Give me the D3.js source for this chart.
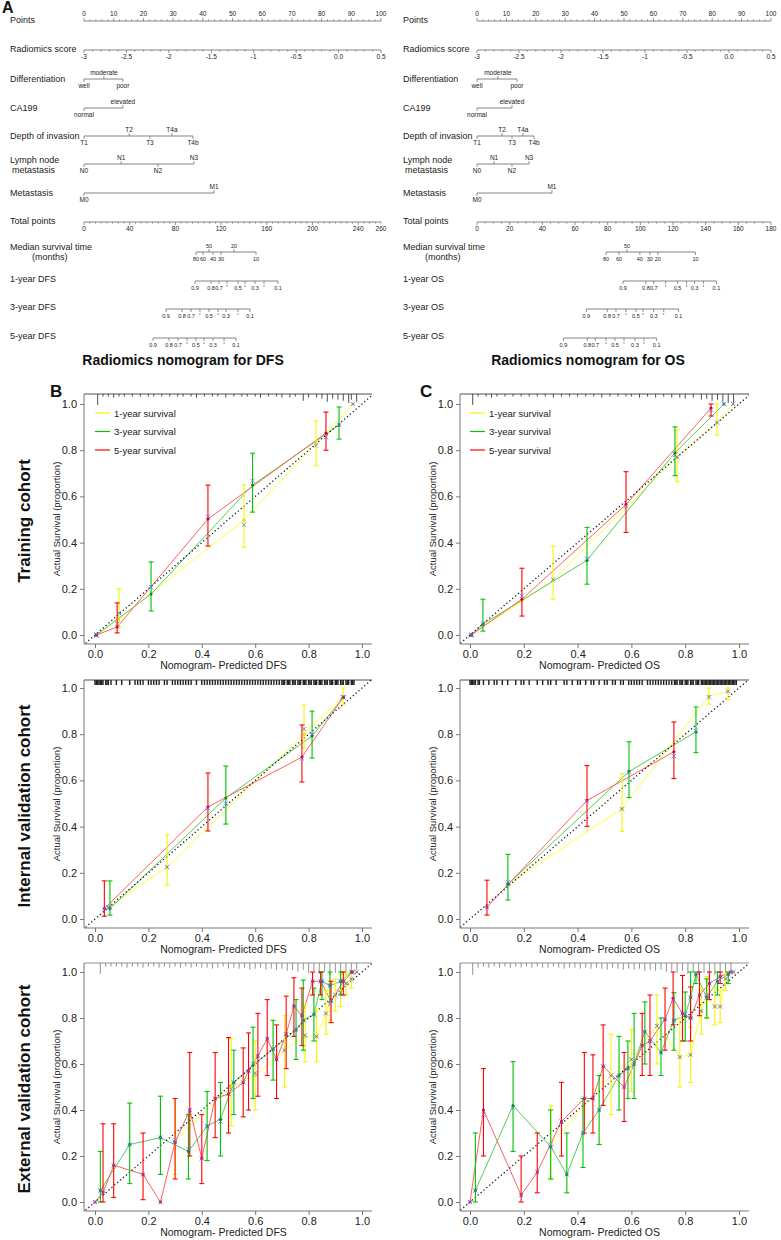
<!DOCTYPE html>
<html>
<head>
<meta charset="utf-8">
<script src="https://cdn.jsdelivr.net/npm/d3@7"></script>
<style>
  body { margin: 0; background: #fff; }
  svg { display: block; font-family: "Liberation Sans", Arial, sans-serif; }
</style>
</head>
<body>
<script>
// ---------- Nomogram data (points contributed by each level) ----------
const pointTicks = d3.range(0, 101, 10)
const radScoreTicks = [-3, -2.5, -2, -1.5, -1, -0.5, 0, 0.5]
const probLabelled = [0.9, 0.8, 0.7, 0.5, 0.3, 0.1]

const dfsDiff = [["well", 0], ["moderate", 6.7], ["poor", 13.1]]
const dfsCA199 = [["normal", 0], ["elevated", 13.1]]
const dfsDepth = [["T1", 0], ["T2", 15.2], ["T3", 22.2], ["T4a", 29.6], ["T4b", 36.7]]
const dfsNode = [["N0", 0], ["N1", 12.5], ["N2", 24.9], ["N3", 37.0]]
const dfsMeta = [["M0", 0], ["M1", 43.8]]
// [months, total points]
const dfsMedian = [[80, 98], [60, 104.2], [50, 109.4], [40, 112.9], [30, 119.9], [20, 131.3], [10, 150.6]]
const dfsMedianUp = [50, 20]
// [probability, total points]
const dfs1y = [[0.9, 97.2], [0.8, 111.2], [0.7, 118.2], [0.6, 125.2], [0.5, 134.8], [0.4, 140.9], [0.3, 149.7], [0.2, 157.6], [0.1, 169.8]]
const dfs3y = [[0.9, 71.8], [0.8, 85.8], [0.7, 93.7], [0.6, 101.5], [0.5, 109.4], [0.4, 117.3], [0.3, 124.3], [0.2, 134.8], [0.1, 145.3]]
const dfs5y = [[0.9, 60.4], [0.8, 74.4], [0.7, 82.3], [0.6, 90.2], [0.5, 98], [0.4, 105], [0.3, 112.9], [0.2, 122.6], [0.1, 133.1]]

const osDiff = [["well", 0], ["moderate", 7.1], ["poor", 13.6]]
const osCA199 = [["normal", 0], ["elevated", 11.9]]
const osDepth = [["T1", 0], ["T2", 8.5], ["T3", 11.9], ["T4a", 15.6], ["T4b", 19.4]]
const osNode = [["N0", 0], ["N1", 5.8], ["N2", 11.9], ["N3", 17.7]]
const osMeta = [["M0", 0], ["M1", 25.5]]
const osMedian = [[80, 79], [60, 87], [50, 91.8], [40, 99.7], [30, 105.8], [20, 110.7], [10, 133.8]]
const osMedianUp = [50]
const os1y = [[0.9, 89.4], [0.8, 103.4], [0.7, 108.2], [0.6, 115.5], [0.5, 122.8], [0.4, 128.3], [0.3, 133.2], [0.2, 138.6], [0.1, 146.6]]
const os3y = [[0.9, 66.9], [0.8, 79.7], [0.7, 85.1], [0.6, 91.2], [0.5, 97.3], [0.4, 101.6], [0.3, 108.2], [0.2, 114.3], [0.1, 123.4]]
const os5y = [[0.9, 52.9], [0.8, 67.5], [0.7, 72.4], [0.6, 79], [0.5, 84.5], [0.4, 90], [0.3, 96.7], [0.2, 102.2], [0.1, 110]]

// ---------- Calibration data: [predicted, observed, lower, upper, corrected] ----------
const dfsTrain = {
  y: [[0.005, 0, 0, 0, 0], [0.09, 0.07, 0.035, 0.20, 0.095], [0.558, 0.498, 0.38, 0.65, 0.477], [0.828, 0.83, 0.732, 0.926, 0.82], [0.966, 1, 1, 1, 1]],
  g: [[0.005, 0, 0, 0, 0], [0.21, 0.177, 0.104, 0.316, 0.207], [0.59, 0.649, 0.532, 0.787, 0.667], [0.914, 0.909, 0.848, 0.987, 0.91]],
  r: [[0.005, 0, 0, 0, 0], [0.083, 0.035, 0.009, 0.139, 0.048], [0.423, 0.502, 0.385, 0.649, 0.511], [0.865, 0.874, 0.80, 0.965, 0.857]]
}
const osTrain = {
  y: [[0.005, 0, 0, 0, 0], [0.309, 0.237, 0.155, 0.384, 0.24], [0.77, 0.77, 0.664, 0.888, 0.77], [0.918, 0.918, 0.866, 1, 0.92], [0.978, 1, 1, 1, 1]],
  g: [[0.005, 0, 0, 0, 0], [0.048, 0.047, 0.017, 0.155, 0.05], [0.435, 0.323, 0.22, 0.466, 0.33], [0.762, 0.789, 0.69, 0.901, 0.78], [0.944, 1, 1, 1, 1]],
  r: [[0.005, 0, 0, 0, 0], [0.193, 0.155, 0.082, 0.289, 0.17], [0.58, 0.565, 0.444, 0.707, 0.56], [0.896, 0.983, 0.948, 1, 0.975]]
}
const dfsInternal = {
  y: [[0.05, 0.05, 0.05, 0.05, 0.05], [0.27, 0.225, 0.147, 0.364, 0.225], [0.783, 0.80, 0.74, 0.926, 0.823], [0.929, 0.965, 0.93, 1, 0.96]],
  g: [[0.056, 0.045, 0.017, 0.165, 0.05], [0.49, 0.524, 0.411, 0.662, 0.5], [0.813, 0.792, 0.697, 0.9, 0.8], [0.93, 0.96, 0.96, 0.96, 0.96]],
  r: [[0.035, 0.045, 0.012, 0.165, 0.045], [0.423, 0.485, 0.381, 0.632, 0.48], [0.775, 0.701, 0.593, 0.84, 0.695], [0.93, 0.96, 0.96, 0.96, 0.96]]
}
const osInternal = {
  y: [[0.14, 0.15, 0.15, 0.15, 0.15], [0.565, 0.478, 0.379, 0.629, 0.475], [0.888, 0.965, 0.93, 1, 0.96], [0.959, 0.985, 0.95, 1, 0.985]],
  g: [[0.141, 0.151, 0.082, 0.28, 0.16], [0.591, 0.638, 0.526, 0.767, 0.635], [0.84, 0.81, 0.72, 0.918, 0.815]],
  r: [[0.063, 0.052, 0.017, 0.168, 0.05], [0.435, 0.513, 0.401, 0.664, 0.51], [0.758, 0.724, 0.608, 0.853, 0.705]]
}
const dfsExternal = {
  y: [[0.30, 0.27, 0.12, 0.45, 0.27], [0.51, 0.5, 0.33, 0.71, 0.49], [0.6, 0.55, 0.4, 0.7, 0.56], [0.71, 0.661, 0.5, 0.81, 0.66], [0.787, 0.72, 0.61, 0.86, 0.725],
      [0.83, 0.72, 0.61, 0.84, 0.72], [0.865, 0.82, 0.73, 0.92, 0.82], [0.88, 0.87, 0.79, 0.95, 0.86], [0.9, 0.9, 0.83, 0.97, 0.9], [0.92, 0.92, 0.85, 0.99, 0.91],
      [0.94, 0.95, 0.9, 1, 0.95], [0.96, 0.97, 0.93, 1, 0.97], [0.98, 1, 1, 1, 1]],
  g: [[0.02, 0.05, 0, 0.22, 0.05], [0.13, 0.25, 0.08, 0.43, 0.25], [0.245, 0.28, 0.12, 0.46, 0.28], [0.35, 0.22, 0.1, 0.38, 0.23], [0.42, 0.33, 0.18, 0.48, 0.33],
      [0.47, 0.36, 0.2, 0.52, 0.35], [0.52, 0.52, 0.38, 0.66, 0.52], [0.592, 0.596, 0.45, 0.76, 0.6], [0.667, 0.665, 0.53, 0.79, 0.665],
      [0.753, 0.748, 0.62, 0.88, 0.75], [0.78, 0.79, 0.66, 0.965, 0.79], [0.82, 0.815, 0.7, 0.93, 0.815], [0.85, 0.96, 0.88, 1, 0.96],
      [0.88, 0.94, 0.87, 1, 0.94], [0.92, 0.96, 0.9, 1, 0.96], [0.96, 1, 1, 1, 1]],
  r: [[0.0, 0, 0, 0, 0], [0.03, 0.04, 0, 0.34, 0.04], [0.07, 0.16, 0.02, 0.34, 0.16], [0.18, 0.12, 0.01, 0.3, 0.12], [0.245, 0.0, 0, 0.0, 0.0],
      [0.30, 0.26, 0.1, 0.45, 0.26], [0.355, 0.40, 0.2, 0.65, 0.4], [0.40, 0.19, 0.08, 0.38, 0.19], [0.45, 0.45, 0.28, 0.65, 0.45], [0.5, 0.47, 0.3, 0.715, 0.47],
      [0.555, 0.52, 0.37, 0.67, 0.52], [0.575, 0.57, 0.4, 0.735, 0.57], [0.61, 0.635, 0.46, 0.82, 0.635], [0.645, 0.71, 0.55, 0.88, 0.71],
      [0.68, 0.62, 0.45, 0.77, 0.62], [0.716, 0.73, 0.58, 0.895, 0.73], [0.745, 0.852, 0.72, 0.975, 0.85], [0.775, 0.81, 0.68, 0.93, 0.81],
      [0.815, 0.96, 0.9, 1, 0.96], [0.845, 0.96, 0.9, 1, 0.96], [0.884, 0.874, 0.78, 0.96, 0.874], [0.93, 0.96, 0.9, 1, 0.96], [0.965, 1, 1, 1, 1]]
}
const osExternal = {
  y: [[0.3, 0.25, 0.1, 0.42, 0.25], [0.524, 0.55, 0.38, 0.73, 0.55], [0.6, 0.62, 0.48, 0.75, 0.62], [0.695, 0.77, 0.6, 0.9, 0.765], [0.78, 0.63, 0.5, 0.8, 0.63],
      [0.82, 0.64, 0.52, 0.76, 0.64], [0.86, 0.83, 0.73, 0.93, 0.83], [0.88, 0.9, 0.8, 0.98, 0.9], [0.91, 0.85, 0.77, 0.93, 0.85], [0.93, 0.85, 0.78, 0.92, 0.85],
      [0.95, 0.97, 0.92, 1, 0.97], [0.98, 1, 1, 1, 1]],
  g: [[0.02, 0.05, 0, 0.3, 0.05], [0.16, 0.42, 0.22, 0.61, 0.41], [0.3, 0.24, 0.1, 0.4, 0.24], [0.36, 0.12, 0.04, 0.3, 0.12], [0.42, 0.3, 0.15, 0.45, 0.3],
      [0.48, 0.4, 0.25, 0.55, 0.4], [0.554, 0.55, 0.4, 0.72, 0.55], [0.587, 0.58, 0.45, 0.70, 0.58], [0.61, 0.6, 0.45, 0.82, 0.6], [0.65, 0.74, 0.6, 0.87, 0.74],
      [0.71, 0.65, 0.55, 0.8, 0.65], [0.758, 0.79, 0.66, 0.91, 0.79], [0.8, 0.81, 0.7, 0.913, 0.815], [0.82, 0.89, 0.8, 1, 0.89], [0.84, 0.99, 0.95, 1, 0.99],
      [0.88, 0.89, 0.8, 0.97, 0.89], [0.92, 0.96, 0.9, 1, 0.96], [0.96, 0.99, 0.95, 1, 0.99]],
  r: [[0.0, 0, 0, 0, 0], [0.05, 0.40, 0.2, 0.58, 0.38], [0.19, 0.03, 0, 0.2, 0.03], [0.25, 0.13, 0.04, 0.3, 0.13], [0.34, 0.35, 0.2, 0.52, 0.35],
      [0.425, 0.45, 0.3, 0.65, 0.45], [0.457, 0.45, 0.3, 0.64, 0.45], [0.495, 0.59, 0.42, 0.77, 0.59], [0.573, 0.5, 0.35, 0.65, 0.5], [0.64, 0.68, 0.55, 0.82, 0.68],
      [0.669, 0.70, 0.55, 0.9, 0.7], [0.725, 0.795, 0.66, 0.93, 0.795], [0.755, 0.885, 0.77, 1, 0.88], [0.79, 0.82, 0.7, 0.985, 0.82], [0.82, 0.80, 0.7, 0.935, 0.8],
      [0.853, 0.90, 0.81, 1, 0.9], [0.89, 0.95, 0.88, 1, 0.95], [0.93, 0.98, 0.95, 1, 0.98], [0.97, 1, 1, 1, 1]]
}

// ---------- Rug (distribution of predicted values): [value, count] ----------
const rugTrainDFS = [[0.01, 9], [0.03, 1], [0.05, 1], [0.07, 2], [0.09, 1], [0.11, 1], [0.14, 1], [0.17, 1], [0.2, 1], [0.22, 1], [0.25, 1], [0.28, 1], [0.31, 1],
  [0.33, 1], [0.36, 1], [0.38, 2], [0.41, 1], [0.44, 1], [0.46, 1], [0.49, 2], [0.52, 1], [0.55, 1], [0.57, 1], [0.6, 1], [0.62, 2], [0.65, 1], [0.68, 1],
  [0.7, 2], [0.73, 2], [0.75, 1], [0.78, 5], [0.8, 2], [0.83, 2], [0.85, 3], [0.87, 6], [0.89, 3], [0.91, 4], [0.93, 5], [0.95, 7], [0.96, 4], [0.98, 6]]
const rugTrainOS = [[0.01, 9], [0.03, 1], [0.06, 1], [0.08, 2], [0.1, 1], [0.13, 1], [0.16, 1], [0.19, 1], [0.22, 1], [0.25, 1], [0.28, 1], [0.31, 2],
  [0.34, 1], [0.37, 1], [0.4, 1], [0.43, 1], [0.46, 1], [0.49, 2], [0.52, 1], [0.55, 1], [0.58, 1], [0.6, 1], [0.63, 2], [0.66, 1], [0.69, 2], [0.72, 1],
  [0.75, 2], [0.78, 2], [0.8, 3], [0.83, 2], [0.86, 4], [0.88, 3], [0.9, 5], [0.92, 4], [0.94, 6], [0.96, 7], [0.98, 8]]
const rugInternalDFS = [0.0, 0.005, 0.01, 0.015, 0.02, 0.025, 0.03, 0.04, 0.045, 0.05, 0.06, 0.08, 0.1, 0.13, 0.15, 0.16, 0.17, 0.18, 0.2, 0.21, 0.22,
  0.23, 0.24, 0.26, 0.27, 0.29, 0.3, 0.31, 0.32, 0.33, 0.34, 0.35, 0.36, 0.38, 0.4, 0.41, 0.42, 0.43, 0.44, 0.45, 0.46, 0.47, 0.48, 0.49, 0.5,
  0.51, 0.52, 0.53, 0.54, 0.55, 0.56, 0.57, 0.58, 0.59, 0.6, 0.61, 0.62, 0.63, 0.64, 0.65, 0.66, 0.67, 0.68, 0.69, 0.7, 0.705, 0.71, 0.72,
  0.725, 0.73, 0.74, 0.745, 0.75, 0.76, 0.765, 0.77, 0.78, 0.785, 0.79, 0.8, 0.805, 0.81, 0.82, 0.825, 0.83, 0.84, 0.845, 0.85, 0.86, 0.865,
  0.87, 0.88, 0.885, 0.89, 0.9, 0.905, 0.91, 0.92, 0.925, 0.93, 0.94, 0.945, 0.95, 0.96, 0.965, 0.97]
const rugInternalOS = [0.0, 0.005, 0.01, 0.015, 0.02, 0.03, 0.035, 0.05, 0.07, 0.09, 0.1, 0.12, 0.14, 0.17, 0.19, 0.2, 0.22, 0.25, 0.27, 0.29, 0.3, 0.32,
  0.35, 0.36, 0.38, 0.4, 0.41, 0.43, 0.45, 0.46, 0.48, 0.5, 0.51, 0.53, 0.54, 0.56, 0.57, 0.59, 0.6, 0.61, 0.62, 0.63, 0.64, 0.66, 0.67, 0.68,
  0.69, 0.7, 0.71, 0.72, 0.73, 0.74, 0.75, 0.76, 0.765, 0.77, 0.78, 0.785, 0.79, 0.8, 0.805, 0.81, 0.82, 0.825, 0.83, 0.84, 0.845, 0.85, 0.86,
  0.865, 0.87, 0.875, 0.88, 0.885, 0.89, 0.895, 0.9, 0.905, 0.91, 0.915, 0.92, 0.925, 0.93, 0.935, 0.94, 0.945, 0.95, 0.955, 0.96, 0.965,
  0.97, 0.975, 0.98, 0.985, 0.99]
const rugExternalDFS = [[0.02, 9], [0.04, 2], [0.06, 2], [0.08, 2], [0.1, 2], [0.12, 3], [0.14, 2], [0.16, 2], [0.18, 3], [0.2, 2], [0.22, 2], [0.24, 3],
  [0.26, 2], [0.28, 3], [0.3, 2], [0.32, 3], [0.34, 2], [0.36, 3], [0.38, 2], [0.4, 3], [0.42, 3], [0.44, 4], [0.46, 3], [0.48, 2], [0.5, 4], [0.52, 3],
  [0.54, 4], [0.56, 3], [0.58, 5], [0.6, 4], [0.62, 3], [0.64, 5], [0.66, 4], [0.68, 5], [0.7, 4], [0.72, 6], [0.74, 5], [0.76, 7], [0.78, 5], [0.8, 8],
  [0.82, 6], [0.84, 9], [0.86, 7], [0.88, 10], [0.9, 8], [0.92, 11], [0.94, 9], [0.96, 7], [0.98, 5]]
const rugExternalOS = [[0.01, 10], [0.03, 3], [0.05, 2], [0.07, 3], [0.09, 2], [0.11, 3], [0.13, 2], [0.15, 3], [0.17, 2], [0.19, 3], [0.21, 2], [0.23, 3],
  [0.25, 2], [0.27, 3], [0.29, 3], [0.31, 2], [0.33, 3], [0.35, 4], [0.37, 3], [0.39, 3], [0.41, 4], [0.43, 3], [0.45, 4], [0.47, 3], [0.49, 4], [0.51, 5],
  [0.53, 3], [0.55, 4], [0.57, 5], [0.59, 4], [0.61, 5], [0.63, 4], [0.65, 6], [0.67, 5], [0.69, 6], [0.71, 5], [0.73, 7], [0.75, 6], [0.77, 8], [0.79, 6],
  [0.81, 9], [0.83, 7], [0.85, 10], [0.87, 8], [0.89, 9], [0.91, 10], [0.93, 8], [0.95, 9], [0.97, 6]]

const seriesNames = ["1-year survival", "3-year survival", "5-year survival"]
const barColor = { y: "#f5f500", g: "#00c000", r: "#ff0000" }
const lineColor = { y: "#ffff40", g: "#50d050", r: "#ff6060" }
const dotColor = { y: "#e0e000", g: "#009000", r: "#e00000" }

// ---------- SVG ----------
const W = 781, H = 1240
const svg = d3.select("body").append("svg")
  .attr("width", W)
  .attr("height", H)
  .attr("viewBox", [0, 0, W, H])

const ink = "#222"
const nomoStroke = "#666"

// ---------- Nomogram ----------
function drawNomogram(g, cfg) {
  const pts = d3.scaleLinear().domain([0, 100]).range([cfg.x0, cfg.x1])
  const tot = d3.scaleLinear().domain([0, cfg.totalMax]).range([cfg.x0, cfg.x1])
  const rad = d3.scaleLinear().domain([-3, 0.5]).range([cfg.x0, cfg.x1])

  const rowLabel = (y, lines, dx = []) => {
    lines.forEach((t, i) => {
      g.append("text")
        .attr("x", cfg.labelX + (dx[i] || 0))
        .attr("y", y + (lines.length > 1 ? (i === 0 ? -1 : 9) : 3))
        .attr("font-size", 9)
        .attr("fill", ink)
        .text(t)
    })
  }
  const hline = (y, a, b) => g.append("line")
    .attr("x1", a).attr("x2", b).attr("y1", y).attr("y2", y)
    .attr("stroke", nomoStroke).attr("stroke-width", 0.8)
  const tick = (x, y, len) => g.append("line")
    .attr("x1", x).attr("x2", x).attr("y1", y).attr("y2", y + len)
    .attr("stroke", nomoStroke).attr("stroke-width", 0.7)
  const tlabel = (x, y, t, fs = 6.5) => g.append("text")
    .attr("x", x).attr("y", y).attr("text-anchor", "middle")
    .attr("font-size", fs).attr("fill", ink).text(t)

  // Points
  const yP = 21
  rowLabel(yP - 1, ["Points"])
  hline(yP, pts(0), pts(100))
  d3.range(0, 101, 2).forEach(v => tick(pts(v), yP, v % 10 === 0 ? -3 : -1.6))
  pointTicks.forEach(v => tlabel(pts(v), yP - 5, v))

  // Radiomics score
  const yR = 50
  rowLabel(yR - 1, ["Radiomics score"])
  hline(yR, rad(-3), rad(0.5))
  d3.range(-30, 6, 1).forEach(v => tick(rad(v / 10), yR, v % 5 === 0 ? 3 : 1.6))
  radScoreTicks.forEach(v => tlabel(rad(v), yR + 9, v === 0 || v === 0.5 ? d3.format(".1f")(v) : v))

  // Categorical rows, labels alternate below / above
  const catRow = (y, name, levels) => {
    rowLabel(y, name, [0, 2])
    hline(y, pts(0), pts(d3.max(levels, d => d[1])))
    levels.forEach((d, i) => {
      const up = i % 2 === 1
      tick(pts(d[1]), y, up ? -3 : 3)
      tlabel(pts(d[1]), up ? y - 4.5 : y + 9, d[0])
    })
  }
  catRow(79, ["Differentiation"], cfg.diff)
  catRow(108, ["CA199"], cfg.ca)
  catRow(136, ["Depth of invasion"], cfg.depth)
  catRow(164, ["Lymph node", "metastasis"], cfg.node)
  catRow(193, ["Metastasis"], cfg.meta)

  // Total points
  const yT = 222
  rowLabel(yT - 1, ["Total points"])
  hline(yT, tot(0), tot(cfg.totalMax))
  d3.range(0, cfg.totalMax + 1, 5).forEach(v => tick(tot(v), yT, v % cfg.totalStep === 0 ? 3 : 1.6))
  cfg.totalTicks.forEach(v => tlabel(tot(v), yT + 9, v))

  // Median survival time
  const yM = 252
  rowLabel(yM - 1, ["Median survival time", "(months)"], [0, 22])
  hline(yM, tot(d3.min(cfg.median, d => d[1])), tot(d3.max(cfg.median, d => d[1])))
  cfg.median.forEach(d => {
    const up = cfg.medianUp.includes(d[0])
    tick(tot(d[1]), yM, up ? -3 : 3)
    tlabel(tot(d[1]), up ? yM - 4.5 : yM + 9, d[0], 5.5)
  })

  // Survival probability rows
  const probRow = (y, name, data) => {
    rowLabel(y - 2, [name])
    hline(y, tot(d3.min(data, d => d[1])), tot(d3.max(data, d => d[1])))
    data.forEach(d => {
      const lab = probLabelled.includes(d[0])
      tick(tot(d[1]), y, 3)
      if (lab) tlabel(tot(d[1]), y + 9, d3.format(".1f")(d[0]), 5.5)
      else tick(tot(d[1]), y + 4, 2)
    })
  }
  probRow(281, `1-year ${cfg.outcome}`, cfg.p1)
  probRow(309, `3-year ${cfg.outcome}`, cfg.p3)
  probRow(338, `5-year ${cfg.outcome}`, cfg.p5)

  g.append("text")
    .attr("x", cfg.titleX).attr("y", 365)
    .attr("text-anchor", "middle")
    .attr("font-size", 14).attr("font-weight", "bold").attr("fill", "#111")
    .text(`Radiomics nomogram for ${cfg.outcome}`)
}

drawNomogram(svg.append("g"), {
  x0: 84, x1: 381, labelX: 10, totalMax: 260, totalStep: 40,
  totalTicks: [0, 40, 80, 120, 160, 200, 240, 260],
  diff: dfsDiff, ca: dfsCA199, depth: dfsDepth, node: dfsNode, meta: dfsMeta,
  median: dfsMedian, medianUp: dfsMedianUp, p1: dfs1y, p3: dfs3y, p5: dfs5y,
  outcome: "DFS", titleX: 183
})
drawNomogram(svg.append("g"), {
  x0: 477, x1: 771, labelX: 403, totalMax: 180, totalStep: 20,
  totalTicks: d3.range(0, 181, 20),
  diff: osDiff, ca: osCA199, depth: osDepth, node: osNode, meta: osMeta,
  median: osMedian, medianUp: osMedianUp, p1: os1y, p3: os3y, p5: os5y,
  outcome: "OS", titleX: 588
})

svg.append("text").attr("x", 2).attr("y", 13)
  .attr("font-size", 16).attr("font-weight", "bold").attr("fill", "#111").text("A")

// ---------- Calibration panels ----------
function drawCal(g, cfg) {
  const x = d3.scaleLinear().domain([0, 1]).range(cfg.xr)
  const y = d3.scaleLinear().domain([0, 1]).range(cfg.yr)
  const left = cfg.axisX, right = cfg.xr[1] + 10, top = cfg.top, bottom = cfg.bottom
  const axisCol = "#777"

  const clipId = `clip-${cfg.id}`
  g.append("clipPath").attr("id", clipId)
    .append("rect").attr("x", left).attr("y", top).attr("width", right - left).attr("height", bottom - top)
  const plot = g.append("g").attr("clip-path", `url(#${clipId})`)

  // Rug of predicted values along the top
  g.append("line").attr("x1", left).attr("x2", right).attr("y1", top).attr("y2", top)
    .attr("stroke", cfg.rugColor).attr("stroke-width", 0.8)
  const rugH = d3.scaleLinear().domain([0, 10]).range([1.5, 12])
  g.append("g").selectAll("line").data(cfg.rug).join("line")
    .attr("x1", d => x(Array.isArray(d) ? d[0] : d))
    .attr("x2", d => x(Array.isArray(d) ? d[0] : d))
    .attr("y1", top)
    .attr("y2", d => top + (Array.isArray(d) ? rugH(d[1]) : cfg.rugBand))
    .attr("stroke", cfg.rugColor).attr("stroke-width", cfg.rugWidth)

  // Series lines
  const line = d3.line().x(d => x(d[0])).y(d => y(d[1]))
  ;["y", "g", "r"].forEach(k => {
    plot.append("path").datum(cfg.data[k])
      .attr("fill", "none").attr("stroke", lineColor[k]).attr("stroke-width", 1)
      .attr("d", line)
  })

  // Ideal line
  plot.append("line")
    .attr("x1", x(-0.1)).attr("y1", y(-0.1)).attr("x2", x(1.1)).attr("y2", y(1.1))
    .attr("stroke", "#111").attr("stroke-width", 1.3).attr("stroke-dasharray", "1.2,2.6")

  // Error bars, dots and corrected estimates
  ;["y", "g", "r"].forEach(k => {
    const pts = cfg.data[k].filter(d => d[3] > d[2])
    const eb = g.append("g").attr("stroke", barColor[k]).attr("stroke-width", 1.1)
    eb.selectAll(".v").data(pts).join("line")
      .attr("x1", d => x(d[0])).attr("x2", d => x(d[0]))
      .attr("y1", d => y(d[2])).attr("y2", d => y(d[3]))
    eb.selectAll(".lo").data(pts).join("line")
      .attr("x1", d => x(d[0]) - 2.5).attr("x2", d => x(d[0]) + 2.5)
      .attr("y1", d => y(d[2])).attr("y2", d => y(d[2]))
    eb.selectAll(".hi").data(pts).join("line")
      .attr("x1", d => x(d[0]) - 2.5).attr("x2", d => x(d[0]) + 2.5)
      .attr("y1", d => y(d[3])).attr("y2", d => y(d[3]))
  })
  ;["y", "g", "r"].forEach(k => {
    g.append("g").selectAll("circle").data(cfg.data[k]).join("circle")
      .attr("cx", d => x(d[0])).attr("cy", d => y(d[1])).attr("r", 1.5)
      .attr("fill", dotColor[k])
    const xs = g.append("g").attr("stroke", "#6a6aff").attr("stroke-width", 0.8)
    cfg.data[k].forEach(d => {
      const cx = x(d[0]), cy = y(d[4]), s = 2.2
      xs.append("line").attr("x1", cx - s).attr("x2", cx + s).attr("y1", cy - s).attr("y2", cy + s)
      xs.append("line").attr("x1", cx - s).attr("x2", cx + s).attr("y1", cy + s).attr("y2", cy - s)
    })
  })

  // Axes
  const ticks = [0, 0.2, 0.4, 0.6, 0.8, 1]
  const ya = g.append("g").attr("transform", `translate(${left},0)`)
    .call(d3.axisLeft(y).tickValues(ticks).tickFormat(d3.format(".1f")).tickSize(4).tickPadding(3))
  ya.select(".domain").remove()
  ya.append("line").attr("x1", 0).attr("x2", 0).attr("y1", top).attr("y2", bottom).attr("stroke", axisCol)
  const xa = g.append("g").attr("transform", `translate(0,${bottom})`)
    .call(d3.axisBottom(x).tickValues(ticks).tickFormat(d3.format(".1f")).tickSize(4).tickPadding(2))
  xa.select(".domain").remove()
  xa.append("line").attr("x1", left).attr("x2", right).attr("y1", 0).attr("y2", 0).attr("stroke", axisCol)
  ;[ya, xa].forEach(a => {
    a.selectAll(".tick line").attr("stroke", axisCol)
    a.selectAll("text").attr("font-size", 11).attr("fill", ink)
      .attr("font-family", "\"Liberation Sans\", Arial, sans-serif")
  })

  g.append("text")
    .attr("transform", `translate(${left - 24},${(top + bottom) / 2}) rotate(-90)`)
    .attr("text-anchor", "middle").attr("font-size", 9.5).attr("fill", ink)
    .text("Actual Survival (proportion)")
  g.append("text")
    .attr("x", (cfg.xr[0] + cfg.xr[1]) / 2 - 5).attr("y", bottom + 25)
    .attr("text-anchor", "middle").attr("font-size", 10.5).attr("fill", ink)
    .text(`Nomogram- Predicted ${cfg.outcome}`)

  if (cfg.legend) {
    ;["y", "g", "r"].forEach((k, i) => {
      const ly = top + 19 + i * 18.5
      g.append("line").attr("x1", x(0) + 0).attr("x2", x(0) + 15).attr("y1", ly).attr("y2", ly)
        .attr("stroke", barColor[k]).attr("stroke-width", 1.2)
      g.append("text").attr("x", x(0) + 19).attr("y", ly + 3.5)
        .attr("font-size", 9.5).attr("fill", ink).text(seriesNames[i])
    })
  }
}

const rows = [
  { key: "train", yr: [635, 404], top: 394, bottom: 644 },
  { key: "internal", yr: [919, 688], top: 680, bottom: 928 },
  { key: "external", yr: [1202, 972], top: 963, bottom: 1211 }
]
const cols = [
  { outcome: "DFS", axisX: 84, xr: [95, 362] },
  { outcome: "OS", axisX: 460, xr: [470, 739] }
]
const calData = {
  DFS: { train: dfsTrain, internal: dfsInternal, external: dfsExternal },
  OS: { train: osTrain, internal: osInternal, external: osExternal }
}
const rugData = {
  DFS: { train: rugTrainDFS, internal: rugInternalDFS, external: rugExternalDFS },
  OS: { train: rugTrainOS, internal: rugInternalOS, external: rugExternalOS }
}

rows.forEach(r => {
  cols.forEach(c => {
    drawCal(svg.append("g"), {
      id: `${c.outcome}-${r.key}`,
      outcome: c.outcome, axisX: c.axisX, xr: c.xr, yr: r.yr, top: r.top, bottom: r.bottom,
      data: calData[c.outcome][r.key],
      rug: rugData[c.outcome][r.key],
      rugColor: r.key === "external" ? "#777" : "#222",
      rugWidth: r.key === "internal" ? 1.4 : 0.8,
      rugBand: 5,
      legend: r.key === "train"
    })
  })
})

// Row titles and panel letters
const rowTitles = ["Training cohort", "Internal validation cohort", "External validation cohort"]
rows.forEach((r, i) => {
  svg.append("text")
    .attr("transform", `translate(30,${(r.top + r.bottom) / 2 + 2}) rotate(-90)`)
    .attr("text-anchor", "middle")
    .attr("font-size", 17).attr("font-weight", "bold").attr("fill", "#111")
    .text(rowTitles[i])
})
svg.append("text").attr("x", 50).attr("y", 397)
  .attr("font-size", 17).attr("font-weight", "bold").attr("fill", "#111").text("B")
svg.append("text").attr("x", 420).attr("y", 397)
  .attr("font-size", 17).attr("font-weight", "bold").attr("fill", "#111").text("C")
</script>
</body>
</html>
